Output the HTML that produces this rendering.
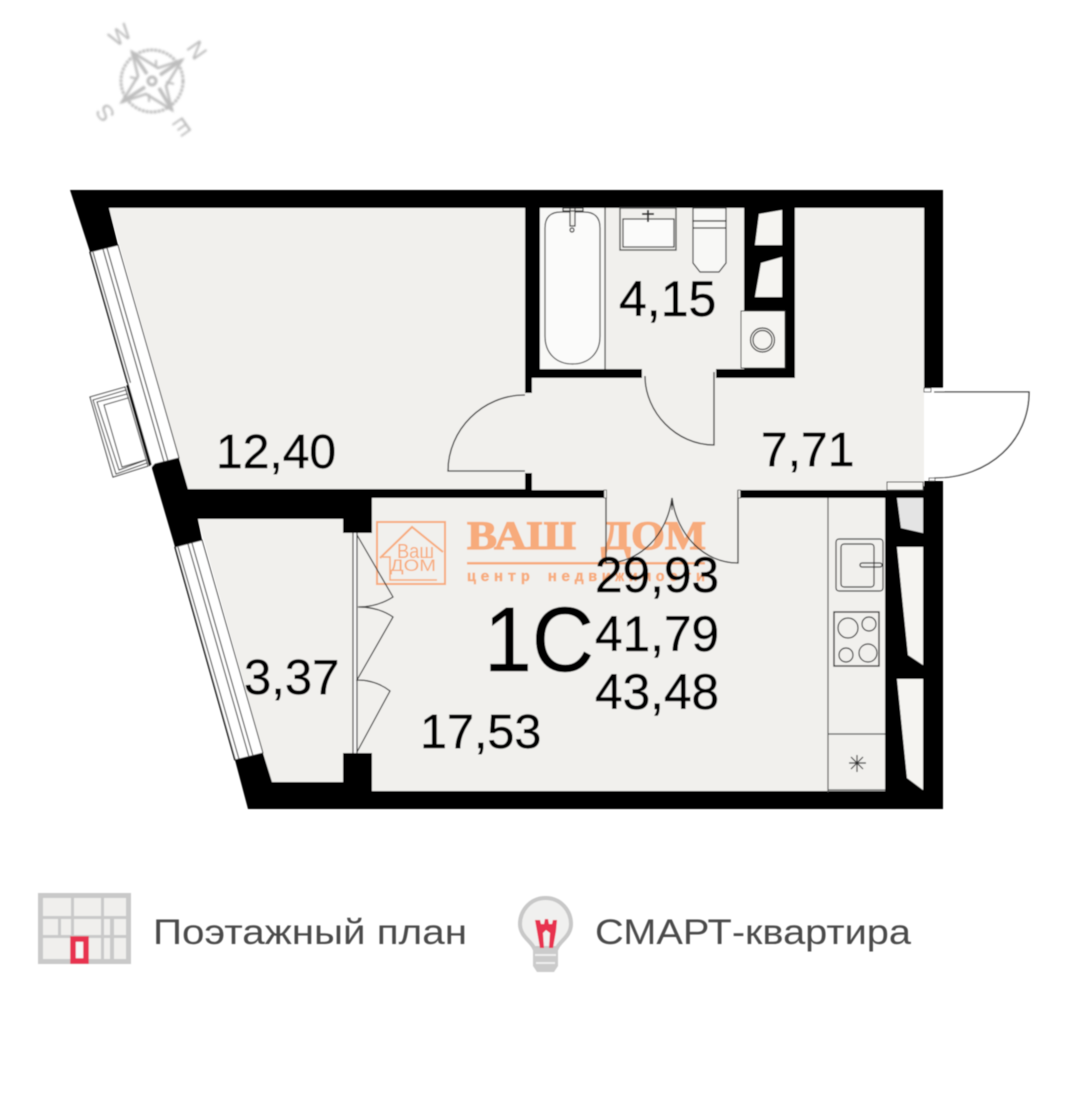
<!DOCTYPE html>
<html><head><meta charset="utf-8"><style>
html,body{margin:0;padding:0;background:#fff}
svg{display:block}
</style></head><body>
<svg xmlns="http://www.w3.org/2000/svg" width="1080" height="1105" viewBox="0 0 1080 1105">
<defs><filter id="b"><feGaussianBlur stdDeviation="1"/></filter><filter id="s"><feGaussianBlur stdDeviation="0.45"/></filter></defs>
<rect width="1080" height="1105" fill="#fff"/>
<!-- compass -->
<g filter="url(#b)" fill="none" stroke="#bdbdbd" stroke-width="3">
<circle cx="152" cy="81" r="31" stroke-dasharray="3 1"/>
<circle cx="152" cy="81" r="4"/>
<path d="M132 52L147 74 M182 60L160 75 M172 110L159 88 M122 102L145 87" stroke-width="3.5"/>
<path d="M132 52L158 68L182 60L166 86L172 110L146 94L122 102L138 76Z" stroke-width="2.5"/>
<path d="M156 60L156 68M174 84L166 82M149 102L149 94M130 77L138 79" stroke-width="2"/>
</g>
<g filter="url(#b)" fill="#b8b8b8" font-family="Liberation Sans, sans-serif" font-size="23" text-anchor="middle">
<text transform="translate(120,35) rotate(-35)" y="8">W</text>
<text transform="translate(197,50) rotate(55)" y="8">N</text>
<text transform="translate(182,127) rotate(145)" y="8">E</text>
<text transform="translate(105,113) rotate(-125)" y="8">S</text>
</g>
<g filter="url(#s)">
<!-- floor -->
<polygon points="109,208 924,208 924,795 275,795 198,519 188,489" fill="#f1f0ed"/>
<rect x="924" y="388" width="20" height="92" fill="#fff"/>
<!-- watermark -->
<g fill="#f7ab7c" stroke="none">
<rect x="377" y="522" width="68" height="62" fill="none" stroke="#f7ab7c" stroke-width="2"/>
<path d="M380 558L412 527L443 552" fill="none" stroke="#f7ab7c" stroke-width="2"/>
<path d="M382 557L390 557L390 580L437 580" fill="none" stroke="#f7ab7c" stroke-width="1.5"/>
<text x="397" y="558" font-family="Liberation Sans, sans-serif" font-size="20" textLength="37" lengthAdjust="spacingAndGlyphs">Ваш</text>
<text x="390" y="571" font-family="Liberation Sans, sans-serif" font-size="17" textLength="46" lengthAdjust="spacingAndGlyphs">ДОМ</text>
<text x="467" y="549" font-family="Liberation Serif, serif" font-weight="bold" font-size="40" stroke="#f7ab7c" stroke-width="1.2" textLength="109" lengthAdjust="spacingAndGlyphs">ВАШ</text>
<text x="601" y="549" font-family="Liberation Serif, serif" font-weight="bold" font-size="40" stroke="#f7ab7c" stroke-width="1.2" textLength="105" lengthAdjust="spacingAndGlyphs">ДОМ</text>
<rect x="467" y="562" width="238" height="2.5"/>
<text x="467" y="581" font-family="Liberation Mono, monospace" font-weight="bold" font-size="15" stroke="#f7ab7c" stroke-width=".4" textLength="238">центр недвижимости</text>
</g>
<!-- walls -->
<g fill="#000">
<polygon points="70,190 943,190 943,388 924,388 924,208 109,208 118,245 90,252"/>
<polygon points="151,465 179,458 188,489 525,489 525,473 532,473 532,490 604,490 604,498 372,498 372,533 343,533 343,519 198,519 202,540 175,547"/>
<polygon points="235,760 263,753 272,782 343,782 343,753 372,753 372,791 885,791 885,498 740,498 740,490 887,490 887,486 924,486 924,481 943,481 943,809 248,809"/>
<rect x="525" y="208" width="15" height="170"/>
<rect x="525" y="378" width="7" height="15"/>
<rect x="525" y="369" width="117" height="9"/>
<rect x="716" y="369" width="79" height="9"/>
<rect x="744" y="208" width="51" height="170"/>
</g>
<!-- shaft holes -->
<g fill="#f5f4f1">
<polygon points="759,214 782,210 782,245 755,245"/>
<polygon points="761,263 782,257 782,297 755,297"/>
<rect x="741" y="311" width="44" height="57" stroke="#333" stroke-width="1"/>
<polygon points="897,547 923,547 923,665 908,655"/>
<polygon points="897,679 923,679 923,790 907,778"/>
</g>
<polygon points="897,498 923,498 923,533 901,528" fill="#e4e4e4"/>
<rect x="887" y="482" width="36" height="8" fill="#f5f4f1" stroke="#444" stroke-width="1"/>
<g fill="none" stroke="#333" stroke-width="1.2">
<circle cx="762.5" cy="340" r="12"/><circle cx="762.5" cy="340" r="9.5"/>
<path d="M605 208V369"/>
<rect x="540" y="208" width="65" height="161" fill="#f8f8f6" stroke="none"/>
<path d="M605 208V369" stroke="#444"/>
<path d="M545 228Q545 212 561 212H584Q600 212 600 228V336C600 354 588 364 572.5 364C557 364 545 354 545 336Z" fill="#fbfbfa" stroke="#444"/>
<path d="M563 208H583V211H563Z M570 208H575V226H570Z" fill="#f5f4f1"/>
<circle cx="572" cy="230" r="2"/>
<rect x="620" y="208" width="56" height="42" fill="#f1f0ed" stroke="#555" stroke-width="1.4"/>
<rect x="623" y="219" width="51" height="28" fill="#fbfbfa"/>
<path d="M648 210V222M642 214H654" stroke-width="2"/>
<rect x="693" y="208" width="33" height="13" fill="#f8f8f6"/>
<path d="M693 221H726V263L719 272H700L693 263Z" fill="#f8f8f6"/>
<path d="M693 228H726"/>
<!-- doors -->
<path d="M645 376C645 412 676 445 714 445V372" stroke-width="1.3"/>
<path d="M525 395C482 395 448 430 448 471H525" stroke-width="1.3"/>
<path d="M934 392H1029C1029 440 990 478 934 478" fill="#fff" stroke-width="1.3"/>
<rect x="924" y="388" width="7" height="4" fill="#fff" stroke-width=".8"/>
<rect x="929" y="478" width="6" height="3" fill="#fff" stroke-width=".8"/>
<path d="M606 490V563C640 563 667 535 672 498C677 535 704 563 738 563V490" stroke-width="1.3"/>
<path d="M672 498V510" stroke-width="1"/>
<rect x="604" y="490" width="2.5" height="8" fill="#f5f4f1" stroke-width=".6"/>
<rect x="738" y="490" width="2.5" height="8" fill="#f5f4f1" stroke-width=".6"/>
<!-- balcony sliding -->
<rect x="353" y="533" width="4" height="220" fill="#fafafa" stroke="none"/>
<path d="M353 533V753M357 533V753" stroke-width="1.2"/>
<path d="M357 535L393 597C382 604 370 607 358 607C370 607 383 610 393 617L357 680C370 680 381 684 390 691L357 752" stroke-width="1.2"/>
<!-- kitchen -->
<path d="M828 498V792M828 734H885M828 790H885" stroke="#555"/>
<rect x="836" y="539" width="47" height="52" rx="3"/>
<rect x="841" y="544" width="33" height="43" rx="3"/>
<rect x="860" y="563" width="22" height="4" rx="2" stroke-width="1.3"/>
<rect x="834" y="612" width="45" height="54" stroke-width="1.4"/>
<circle cx="848" cy="628" r="10"/><circle cx="869" cy="624" r="7"/>
<circle cx="846" cy="655" r="7"/><circle cx="868" cy="653" r="9"/>
<path d="M857 755V772M849 763H866M851 757L863 769M863 757L851 769"/>
</g>
<!-- windows -->
<g stroke="#222" fill="#fff" stroke-width="1">
<polygon points="90,252 118,245 179,458 151,465"/>
<polygon points="175,547 202,540 263,753 235,760"/>
</g>
<g stroke="#333" fill="none" stroke-width="1.1">
<path d="M93,252L154,465M103,249L164,462M107,248L168,461"/>
<path d="M178,547L239,759M188,544L249,757M192,543L253,756"/>
</g>
<!-- balcony box -->
<g fill="none" stroke="#444" stroke-width="1.1">
<polygon points="90,397 125,387 148,466 113,477" fill="#fff"/>
<path d="M126,390L93,400L116,474L147,463"/>
<path d="M127,394L97,402L119,470L146,460"/>
<path d="M128,398L104,405L122,467L145,460"/>
</g>
<polygon points="126,384 133,382 156,462 151,468" fill="#fff"/>
<path d="M127,385L150,466" stroke="#111" stroke-width="1.6"/>
<path d="M90,252L151,465M175,547L235,760" stroke="#111" stroke-width="1.6" fill="none"/>
<!-- labels -->
<g fill="#000" stroke="#000" stroke-width=".5" font-family="Liberation Sans, sans-serif" font-size="48">
<text x="216" y="468">12,40</text>
<text x="619" y="316" font-size="50">4,15</text>
<text x="761" y="466">7,71</text>
<text x="595" y="592" font-size="49.6">29,93</text>
<text x="595" y="651" font-size="49.6">41,79</text>
<text x="595" y="709" font-size="49.6">43,48</text>
<text x="244" y="694" font-size="49">3,37</text>
<text x="420" y="748" font-size="48.5">17,53</text>
<text x="484" y="671" font-size="92" textLength="110" lengthAdjust="spacingAndGlyphs">1C</text>
</g>
</g>
<!-- legend -->
<g filter="url(#s)">
<rect x="38" y="893" width="93" height="71" fill="#c9c9c9"/>
<g fill="#f0efed">
<rect x="43" y="898" width="28" height="18"/><rect x="74" y="898" width="27" height="18"/><rect x="104" y="898" width="22" height="18"/>
<rect x="43" y="919" width="15" height="16"/><rect x="61" y="919" width="10" height="16"/><rect x="74" y="919" width="27" height="16"/><rect x="104" y="919" width="6" height="16"/><rect x="114" y="919" width="12" height="16"/>
<rect x="43" y="938" width="28" height="21"/><rect x="74" y="938" width="27" height="21"/><rect x="104" y="938" width="6" height="21"/><rect x="114" y="938" width="12" height="21"/>
</g>
<rect x="73" y="939" width="13" height="22" fill="#f5f5f5" stroke="#e8334f" stroke-width="5.5"/>
<path d="M545.5 898C530 898 520 911 520 924C520 936 531 941 534 948H557C560 941 571 936 571 924C571 911 561 898 545.5 898Z" fill="#f0f0ef" stroke="#c8c8c8" stroke-width="4"/>
<path d="M533 948H558V966L554 972H537L533 966Z" fill="#cbcbcb"/>
<path d="M535 955H556M536 963H555" stroke="#eee" stroke-width="2"/>
<path d="M535 920L540 920L541 924L544 924L545 919L548 919L549 924L552 924L553 920L557 920L556 931L553 948L549 948L550 933L546 930L543 933L544 948L540 948L537 931Z" fill="#e8334f"/>
</g>
<g fill="#4a4a4a" font-family="Liberation Sans, DejaVu Sans, sans-serif" font-size="35" filter="url(#s)">
<text x="153" y="944" textLength="314" lengthAdjust="spacingAndGlyphs">Поэтажный план</text>
<text x="595" y="944" textLength="316" lengthAdjust="spacingAndGlyphs">СМАРТ-квартира</text>
</g>
</svg>
</body></html>
